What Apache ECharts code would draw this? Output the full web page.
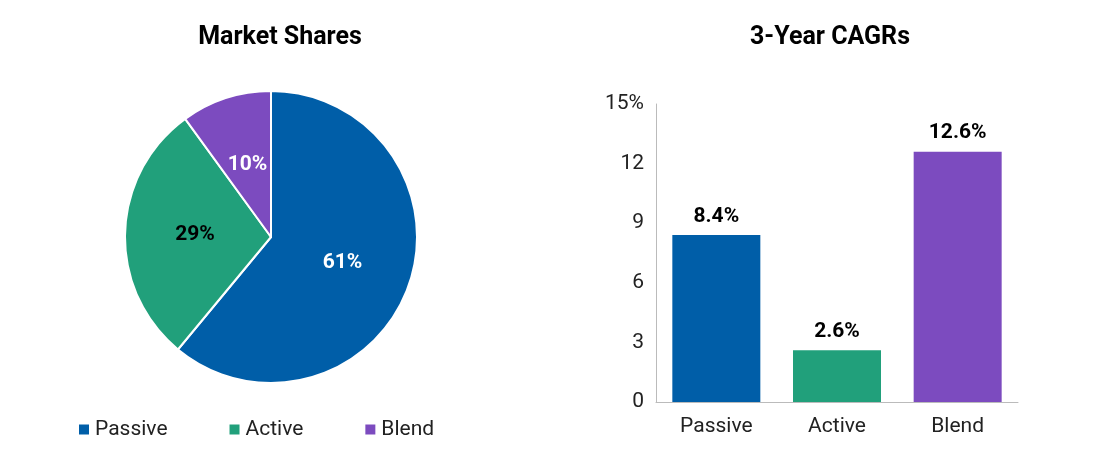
<!DOCTYPE html>
<html>
<head>
<meta charset="utf-8">
<script src="https://cdn.jsdelivr.net/npm/echarts@6/dist/echarts.min.js"></script>
<style>
  html, body { margin: 0; padding: 0; background: #fff; }
  #main { width: 1100px; height: 468px; }
</style>
</head>
<body>
<div id="main"></div>
<script>
// data
const categories = ['Passive', 'Active', 'Blend'];
const shares = [61, 29, 10];
const cagrs = [8.4, 2.6, 12.6];
const colors = ['#005ea8', '#21a07b', '#7c4bbf'];
const shareLabelColors = ['#ffffff', '#000000', '#ffffff'];

const font = 'Roboto, "Liberation Sans", sans-serif';

let chart = echarts.init(document.getElementById('main'));

let option = {
    backgroundColor: '#fff',
    textStyle: { fontFamily: font },
    title: [
        { text: 'Market Shares', left: 275, top: 20, textAlign: 'center',
          textStyle: { fontSize: 25, fontWeight: 'bold', color: '#000', fontFamily: font } },
        { text: '3-Year CAGRs', left: 825, top: 20, textAlign: 'center',
          textStyle: { fontSize: 25, fontWeight: 'bold', color: '#000', fontFamily: font } }
    ],
    legend: {
        left: 72, top: 414,
        itemGap: 60,
        itemWidth: 12, itemHeight: 12,
        icon: 'rect',
        textStyle: { fontSize: 21, color: '#222', fontFamily: font },
        data: categories
    },
    grid: { left: 656, right: 82, top: 104, bottom: 66 },
    xAxis: {
        type: 'category',
        data: categories,
        axisLine: { lineStyle: { color: '#bbb' } },
        axisTick: { show: false },
        axisLabel: { fontSize: 21, color: '#222', margin: 14 }
    },
    yAxis: {
        type: 'value',
        min: 0, max: 15, interval: 3,
        axisLine: { show: true, lineStyle: { color: '#bbb' } },
        axisTick: { show: false },
        splitLine: { show: false },
        axisLabel: { fontSize: 21, color: '#222', margin: 12,
            formatter: v => v === 15 ? '15%' : String(v) }
    },
    series: [
        {
            type: 'pie',
            center: [271, 237],
            radius: 146,
            startAngle: 90,
            clockwise: true,
            itemStyle: { borderColor: '#fff', borderWidth: 2 },
            label: {
                position: 'inside',
                fontSize: 21, fontWeight: 'bold',
                formatter: '{d}%'
            },
            labelLine: { show: false },
            data: categories.map((c, i) => ({
                name: c, value: shares[i],
                itemStyle: { color: colors[i] },
                label: { color: shareLabelColors[i] }
            }))
        },
        {
            type: 'bar',
            barWidth: 88,
            data: cagrs.map((v, i) => ({ value: v, itemStyle: { color: colors[i] } })),
            label: {
                show: true, position: 'top', distance: 8,
                fontSize: 21, fontWeight: 'bold', color: '#000',
                formatter: p => p.value.toFixed(1) + '%'
            }
        }
    ]
};

chart.setOption(option);
</script>
</body>
</html>
